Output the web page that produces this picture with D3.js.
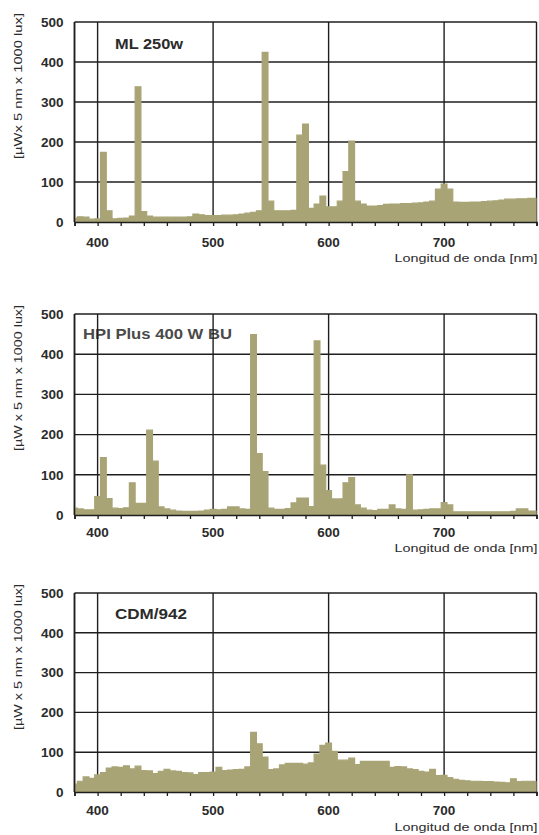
<!DOCTYPE html>
<html><head><meta charset="utf-8">
<script src="https://cdn.jsdelivr.net/npm/d3@7"></script>
<style>
html,body{margin:0;padding:0;background:#fff;}
svg{display:block;}
text{font-family:"Liberation Sans",Arial,sans-serif;}
</style></head>
<body>
<svg id="c" width="539" height="835"></svg>
<script>
// ---- data ----
const wavelengths = d3.range(380, 781, 5); // bin centres, nm
const xTicks = [400, 500, 600, 700];
const xMinorTicks = d3.range(380, 781, 20);
const yTicks = [0, 100, 200, 300, 400, 500];
const lampNames = ["ML 250w", "HPI Plus 400 W BU", "CDM/942"];
const yTitles = ["[µWx 5 nm x 1000 lux]", "[µW x 5 nm x 1000 lux]", "[µW x 5 nm x 1000 lux]"];
const xTitle = "Longitud de onda [nm]";

const mlValues = [
 10,13,12,7,8,174,28,8,9,10,15,338,26,15,12,12,12,12,12,12,13,20,18,16,16,16,17,17,18,20,
 22,24,28,424,52,28,28,28,29,217,245,34,45,65,38,38,52,126,202,52,45,40,40,41,44,45,45,46,46,47,
 48,50,52,82,95,82,50,49,49,50,50,51,52,53,55,57,57,58,58,59,59];
const hpiValues = [
 17,15,13,13,46,143,41,17,16,18,80,29,29,211,134,20,15,12,10,9,9,9,10,12,14,13,14,20,20,15,
 14,449,153,108,17,14,14,16,30,42,42,21,433,124,61,40,40,80,93,25,17,12,11,14,14,25,15,14,100,12,
 13,14,15,15,31,25,8,8,8,8,8,8,8,8,8,8,9,15,15,10,10];
const cdmValues = [
 20,27,38,34,43,49,60,63,62,66,58,65,54,53,46,52,57,53,52,49,48,44,49,49,50,62,54,55,56,57,
 63,150,121,88,56,58,68,72,72,72,70,73,95,117,123,102,80,80,85,69,77,77,77,77,77,62,64,63,58,56,
 52,50,57,41,42,36,32,29,28,27,27,26,26,25,24,23,33,26,27,27,26];
const series = [mlValues, hpiValues, cdmValues];

// ---- layout ----
const svg = d3.select("#c");
const left = 74.5, right = 536.5;
const panels = [
  {top: 22, bottom: 222, tickY: 25, titleY: 39.5, labelX: 115, labelW: 68, labelDY: 27},
  {top: 314, bottom: 515, tickY: 22, titleY: 36.5, labelX: 83, labelW: 149, labelDY: 25},
  {top: 593, bottom: 792, tickY: 23, titleY: 39, labelX: 115, labelW: 72, labelDY: 26}
];
const barColor = "#a9a476";
const gridColor = "#1e1e1e";
const textColor = "#2b2b2b";

const x = d3.scaleLinear().domain([380, 780]).range([left, right]);

panels.forEach((p, i) => {
  const g = svg.append("g");
  const y = d3.scaleLinear().domain([0, 500]).range([p.bottom, p.top]);

  const clipId = "clip" + i;
  svg.append("clipPath").attr("id", clipId).append("rect")
    .attr("x", left).attr("y", p.top - 2).attr("width", right - left).attr("height", p.bottom - p.top + 2);

  // panel label (below grid)
  g.append("text")
    .attr("x", p.labelX).attr("y", p.top + p.labelDY)
    .attr("font-size", 14).attr("font-weight", "bold")
    .attr("fill", i === 1 ? "#4a4a4a" : textColor)
    .attr("textLength", p.labelW).attr("lengthAdjust", "spacingAndGlyphs")
    .text(lampNames[i]);

  // grid
  g.selectAll("line.h").data(yTicks.filter(t => t > 0)).join("line")
    .attr("x1", left).attr("x2", right)
    .attr("y1", d => y(d)).attr("y2", d => y(d))
    .attr("stroke", gridColor).attr("stroke-width", 1.4);
  g.selectAll("line.v").data(xTicks.concat([380, 780])).join("line")
    .attr("x1", d => x(d)).attr("x2", d => x(d))
    .attr("y1", p.top).attr("y2", p.bottom)
    .attr("stroke", gridColor).attr("stroke-width", 1.4);

  // bars (histogram of 5 nm bins)
  const area = d3.area()
    .x((d, j) => x(wavelengths[j]))
    .y0(y(0)).y1(d => y(d))
    .curve(d3.curveStep);
  g.append("path").datum(series[i]).attr("d", area)
    .attr("clip-path", `url(#${clipId})`)
    .attr("fill", barColor).attr("stroke", barColor).attr("stroke-width", 1.2)
    .attr("stroke-linejoin", "miter");

  // x axis
  const xAxis = d3.axisBottom(x).tickValues(xMinorTicks).tickSize(4).tickFormat("");
  const ax = g.append("g").attr("transform", `translate(0,${p.bottom})`).call(xAxis);
  ax.select(".domain").attr("stroke", gridColor).attr("stroke-width", 1.6);
  ax.selectAll(".tick line").attr("stroke", gridColor).attr("stroke-width", 1.3);

  g.selectAll("text.xt").data(xTicks).join("text")
    .attr("x", d => x(d)).attr("y", p.bottom + p.tickY)
    .attr("text-anchor", "middle").attr("font-size", 13.5).attr("font-weight", "bold")
    .attr("fill", textColor).text(d => d);

  // y axis labels
  g.selectAll("text.yt").data(yTicks).join("text")
    .attr("x", 63.5).attr("y", d => y(d)).attr("dy", "0.36em")
    .attr("text-anchor", "end").attr("font-size", 13.5).attr("font-weight", "bold")
    .attr("fill", textColor).text(d => d);

  // left axis line
  g.append("line").attr("x1", left).attr("x2", left).attr("y1", p.top).attr("y2", p.bottom)
    .attr("stroke", gridColor).attr("stroke-width", 1.6);

  // y title
  g.append("text")
    .attr("transform", `translate(18,${p.top + 64}) rotate(-90)`)
    .attr("dy", "0.35em").attr("text-anchor", "middle")
    .attr("font-size", 10.5).attr("fill", textColor)
    .attr("textLength", 146).attr("lengthAdjust", "spacingAndGlyphs")
    .text(yTitles[i]);

  // x title
  g.append("text")
    .attr("x", right + 1).attr("y", p.bottom + p.titleY)
    .attr("text-anchor", "end").attr("font-size", 11).attr("fill", textColor)
    .attr("textLength", 143).attr("lengthAdjust", "spacingAndGlyphs")
    .text(xTitle);
});
</script>
</body></html>
